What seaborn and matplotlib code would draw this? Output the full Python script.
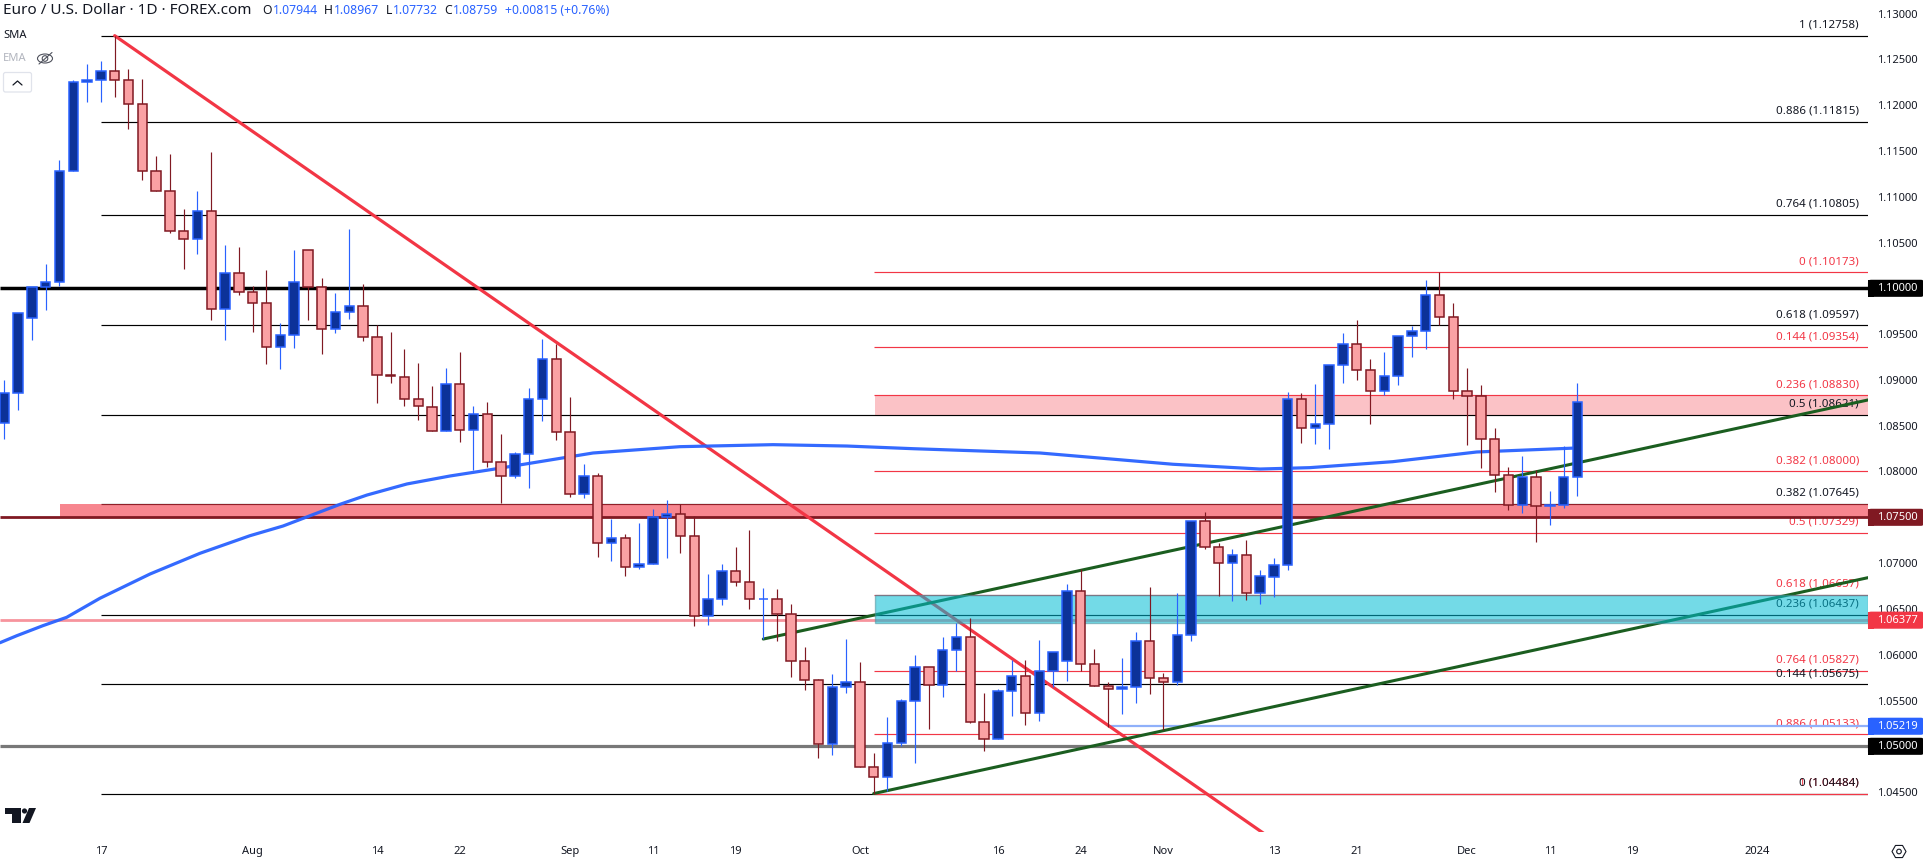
import numpy as np
import pandas as pd
import matplotlib
matplotlib.use("Agg")
import matplotlib.pyplot as plt
from matplotlib.patches import Rectangle, FancyBboxPatch, Polygon, Circle, Ellipse, RegularPolygon
import seaborn as sns

# daily candles
open_ = [1.0853, 1.0886, 1.09672, 1.1001, 1.10072, 1.11284, 1.12248, 1.1227, 1.12368, 1.1227,
         1.12008, 1.11284, 1.11065, 1.10629, 1.10541, 1.10847, 1.0977, 1.10163, 1.09956, 1.09836,
         1.09362, 1.09486, 1.10414, 1.1001, 1.09552, 1.09737, 1.09803, 1.09464, 1.09049, 1.09035,
         1.08787, 1.08708, 1.08439, 1.08952, 1.08449, 1.08624, 1.081, 1.07947, 1.08187, 1.08788,
         1.09225, 1.08428, 1.07751, 1.07947, 1.07216, 1.07271, 1.06954, 1.06987, 1.075, 1.07533,
         1.07292, 1.06419, 1.06605, 1.0691, 1.0679, 1.06605, 1.06605, 1.06448, 1.05928, 1.0572,
         1.05022, 1.05644, 1.05699, 1.04771, 1.04661, 1.05033, 1.05491, 1.05862, 1.05666, 1.06048,
         1.0619, 1.05269, 1.05076, 1.056, 1.05764, 1.0536, 1.05818, 1.05935, 1.06692, 1.05895,
         1.05655, 1.05622, 1.05644, 1.06146, 1.05742, 1.05698, 1.06211, 1.07456, 1.07172, 1.06997,
         1.07085, 1.0667, 1.06852, 1.06976, 1.08791, 1.08471, 1.08515, 1.09159, 1.09388, 1.09104,
         1.08875, 1.09039, 1.09475, 1.0953, 1.09923, 1.09683, 1.08875, 1.0882, 1.08351, 1.07958,
         1.07631, 1.07936, 1.0762, 1.07638, 1.07944]
high = [1.0900, 1.09726, 1.1001, 1.10265, 1.1140, 1.12274, 1.12448, 1.12481, 1.12758, 1.1239,
        1.12281, 1.11444, 1.11462, 1.10862, 1.11058, 1.11484, 1.10472, 1.1045, 1.10025, 1.10199,
        1.09617, 1.10418, 1.10414, 1.10108, 1.09945, 1.10643, 1.10043, 1.09595, 1.09519, 1.09333,
        1.0918, 1.08933, 1.09126, 1.09301, 1.08715, 1.08759, 1.0841, 1.08213, 1.08908, 1.09447,
        1.09392, 1.08813, 1.08082, 1.0798, 1.07482, 1.07318, 1.07434, 1.07591, 1.07689, 1.07642,
        1.07511, 1.06881, 1.06987, 1.07176, 1.07362, 1.06728, 1.06714, 1.0655, 1.06081, 1.05731,
        1.05786, 1.06172, 1.05917, 1.04923, 1.05316, 1.05517, 1.05997, 1.05862, 1.0619, 1.06343,
        1.06397, 1.05578, 1.05622, 1.05942, 1.05942, 1.0616, 1.06026, 1.06768, 1.06932, 1.06059,
        1.05698, 1.05964, 1.06244, 1.06739, 1.05796, 1.06673, 1.07456, 1.07558, 1.07216, 1.07154,
        1.07252, 1.06925, 1.07056, 1.08868, 1.08853, 1.08955, 1.09159, 1.09512, 1.09654, 1.09228,
        1.09304, 1.09475, 1.09588, 1.1009, 1.10173, 1.09836, 1.0913, 1.08944, 1.08471, 1.08045,
        1.08169, 1.08016, 1.07787, 1.08278, 1.08967]
low = [1.0835, 1.08671, 1.09435, 1.09763, 1.10025, 1.11284, 1.12037, 1.12037, 1.12092, 1.11742,
       1.11182, 1.11065, 1.10607, 1.10214, 1.10378, 1.09654, 1.09435, 1.09927, 1.09526, 1.09177,
       1.09119, 1.09352, 1.09654, 1.09282, 1.09515, 1.09668, 1.09428, 1.08751, 1.08969, 1.08718,
       1.08562, 1.08439, 1.08439, 1.08326, 1.08016, 1.08053, 1.0766, 1.07933, 1.07824, 1.08555,
       1.08348, 1.07725, 1.07714, 1.0707, 1.07027, 1.06859, 1.06939, 1.06987, 1.07056, 1.0711,
       1.06314, 1.06325, 1.06546, 1.06754, 1.06503, 1.06168, 1.06153, 1.0576, 1.05619, 1.04876,
       1.04909, 1.05586, 1.04771, 1.04484, 1.04509, 1.05004, 1.04822, 1.05193, 1.05542, 1.05819,
       1.05258, 1.04952, 1.05076, 1.05334, 1.05236, 1.0528, 1.05651, 1.05716, 1.05826, 1.05655,
       1.05214, 1.05356, 1.05476, 1.05574, 1.05174, 1.05665, 1.06149, 1.07157, 1.06644, 1.0659,
       1.06601, 1.06553, 1.0663, 1.06925, 1.08315, 1.08304, 1.08249, 1.0897, 1.09002, 1.08522,
       1.08839, 1.08948, 1.09254, 1.09341, 1.09603, 1.08795, 1.08293, 1.08042, 1.0778, 1.0758,
       1.0755, 1.07234, 1.07416, 1.07605, 1.07732]
close = [1.0886, 1.09726, 1.1001, 1.10072, 1.11284, 1.12248, 1.1227, 1.12368, 1.1227, 1.12008,
         1.11284, 1.11065, 1.10629, 1.10541, 1.10847, 1.0977, 1.10163, 1.09956, 1.09836, 1.09362,
         1.09486, 1.10072, 1.1001, 1.09552, 1.09737, 1.09803, 1.09464, 1.09049, 1.09045, 1.08787,
         1.08711, 1.08439, 1.08952, 1.08449, 1.08624, 1.081, 1.07947, 1.08187, 1.08788, 1.09225,
         1.08428, 1.07751, 1.07947, 1.07216, 1.07271, 1.06954, 1.06987, 1.075, 1.07533, 1.07292,
         1.06419, 1.06605, 1.0691, 1.0679, 1.06605, 1.06608, 1.06448, 1.05928, 1.0572, 1.05022,
         1.05644, 1.05699, 1.04771, 1.04661, 1.05033, 1.05491, 1.05862, 1.05666, 1.06048, 1.0619,
         1.05269, 1.05076, 1.056, 1.05764, 1.0536, 1.05818, 1.06026, 1.06692, 1.05895, 1.05655,
         1.05622, 1.05644, 1.06146, 1.05742, 1.05698, 1.06211, 1.07456, 1.07172, 1.06997, 1.07085,
         1.0667, 1.06855, 1.06976, 1.08791, 1.08471, 1.08515, 1.09159, 1.09388, 1.09104, 1.08875,
         1.09039, 1.09475, 1.0953, 1.09923, 1.09683, 1.08875, 1.0882, 1.08351, 1.07958, 1.07631,
         1.07936, 1.0762, 1.07638, 1.07936, 1.08759]

# 200 day SMA, read at a few spots
sma_x = [-0.31, 0.9, 2.8, 4.52, 6.93, 10.56, 14.18, 17.8, 20.2, 24.33, 26.28, 29.18, 32.3, 35.41,
         42.66, 48.96, 55.7, 61.07, 65.85, 75.05, 84.69, 91, 94.6, 100.6, 106.7, 114]
sma_y = [1.06131, 1.06207, 1.06317, 1.06408, 1.06616, 1.06881, 1.07107, 1.07299, 1.07405, 1.07642,
         1.07743, 1.07864, 1.07951, 1.08024, 1.08202, 1.08271, 1.08293, 1.08278, 1.08249, 1.08202,
         1.08079, 1.08027, 1.08042, 1.08107, 1.08213, 1.08257]

# fib levels
black_fib = [("1", 1.12758), ("0.886", 1.11815), ("0.764", 1.10805), ("0.618", 1.09597), ("0.5", 1.08621),
             ("0.382", 1.07645), ("0.236", 1.06437), ("0.144", 1.05675), ("0", 1.04484)]
red_fib = [("0", 1.10173), ("0.144", 1.09354), ("0.236", 1.0883), ("0.382", 1.08), ("0.5", 1.07329),
           ("0.618", 1.06657), ("0.764", 1.05827), ("0.886", 1.05133), ("1", 1.04484)]

y_ticks = [1.13, 1.125, 1.12, 1.115, 1.11, 1.105, 1.095, 1.09, 1.085, 1.08, 1.07, 1.065, 1.06, 1.055, 1.045]
x_ticks = [7, 18, 27, 33, 41, 47, 53, 62, 72, 78, 84, 92, 98, 106, 112, 118, 127]
x_labels = ["17", "Aug", "14", "22", "Sep", "11", "19", "Oct", "16", "24", "Nov", "13", "21", "Dec", "11", "19", "2024"]

price_tags = [(1.1, "1.10000", "#000000"), (1.075, "1.07500", "#801922"), (1.06377, "1.06377", "#f23645"),
              (1.05219, "1.05219", "#2962ff"), (1.05, "1.05000", "#000000")]

BULL_FILL, BULL_EDGE = "#0c3299", "#2962ff"
BEAR_FILL, BEAR_EDGE = "#faa1a4", "#801922"
RED, GREEN, INK = "#f23645", "#1b5e20", "#131722"

sns.set_theme(style="white")
plt.rcParams['font.family'] = ['Noto Sans', 'DejaVu Sans']

W, H = 1924, 863
CHART_W, CHART_H = 1868, 832
fig = plt.figure(figsize=(W / 100, H / 100), dpi=100, facecolor="white")
ax = fig.add_axes([0, (H - CHART_H) / H, CHART_W / W, CHART_H / H])

x_min, x_max = -4.3 / 13.8, (CHART_W - 4.3) / 13.8
y_max, y_min = 1.13 + 13.5 / 9160, 1.13 - (CHART_H - 13.5) / 9160

df = pd.DataFrame({"o": open_, "h": high, "l": low, "c": close})
df["i"] = df.index
up = df[df.c >= df.o]
dn = df[df.c < df.o]

# fib lines sit under the zones, so the black edge of the red zone turns dark red
for name, p in black_fib:
    ax.hlines(p, 7, x_max, color="#000000", lw=0.85, zorder=2)
    ax.annotate(f"{name} ({p:.5f})", (x_max, p), xytext=(-6.5, 7.6), textcoords="offset points",
                ha="right", va="center", fontsize=8.3, color=INK, zorder=2.5)
for name, p in red_fib:
    ax.hlines(p, 63, x_max, color=RED, lw=0.85, zorder=2)
    ax.annotate(f"{name} ({p:.5f})", (x_max, p), xytext=(-6.5, 7.6), textcoords="offset points",
                ha="right", va="center", fontsize=8.3, color=RED, zorder=2.4)

# zones
ax.add_patch(Rectangle((63.1, 1.08621), x_max - 63.1, 1.0883 - 1.08621, fc=RED, alpha=0.3, lw=0, zorder=2.2))
ax.add_patch(Rectangle((4.05, 1.075), x_max - 4.05, 1.07645 - 1.075, fc=RED, alpha=0.6, lw=0, zorder=2.2))

# horizontal price lines
ax.hlines(1.1, x_min, x_max, color="#000000", lw=2.5, zorder=2.6)
ax.hlines(1.05, x_min, x_max, color="#787878", lw=2.3, zorder=2.6)
ax.hlines(1.075, x_min, x_max, color="#801922", lw=2.0, zorder=2.6)
ax.hlines(1.06377, x_min, x_max, color="#f7949d", lw=2.0, zorder=2.6)
ax.hlines(1.05219, 80, x_max, color="#8fb0fa", lw=1.6, zorder=2.6)

# trend lines and SMA
sns.lineplot(x=[8, 92], y=[1.12758, 1.03972], ax=ax, color=RED, lw=2.3, zorder=3, estimator=None)
sns.lineplot(x=[55, x_max], y=[1.06171, 1.08781], ax=ax, color=GREEN, lw=2.2, zorder=3, estimator=None)
sns.lineplot(x=[63, x_max], y=[1.04484, 1.06841], ax=ax, color=GREEN, lw=2.2, zorder=3, estimator=None)
sns.lineplot(x=sma_x, y=sma_y, ax=ax, color=BULL_EDGE, lw=2.3, alpha=0.95, zorder=3, estimator=None, sort=False)

ax.add_patch(Rectangle((63.1, 1.0635), x_max - 63.1, 1.06657 - 1.0635, fc="#00bcd4", ec="#4f8f9a", alpha=0.55,
                       lw=1, zorder=4))

# candles
ax.vlines(up.i, up.l, up.h, color=BULL_EDGE, lw=0.85, zorder=5)
ax.vlines(dn.i, dn.l, dn.h, color=BEAR_EDGE, lw=0.85, zorder=5)
ax.bar(up.i, up.c - up.o, bottom=up.o, width=0.68, color=BULL_FILL, edgecolor=BULL_EDGE, lw=1.1, zorder=6)
ax.bar(dn.i, dn.o - dn.c, bottom=dn.c, width=0.68, color=BEAR_FILL, edgecolor=BEAR_EDGE, lw=1.1, zorder=6)

ax.set_xlim(x_min, x_max)
ax.set_ylim(y_min, y_max)
ax.set_xlabel("")
ax.set_ylabel("")
ax.yaxis.tick_right()
ax.set_yticks(y_ticks)
ax.set_yticklabels([f"{t:.5f}" for t in y_ticks])
ax.set_xticks(x_ticks)
ax.set_xticklabels(x_labels)
ax.tick_params(axis="y", length=0, pad=6.5, labelsize=8, labelcolor=INK)
ax.tick_params(axis="x", length=0, pad=10, labelsize=8, labelcolor=INK)
ax.get_xticklabels()[-1].set_fontweight("bold")
sns.despine(ax=ax, left=True, bottom=True, right=True, top=True)

# everything around the chart, in pixel coordinates
ov = fig.add_axes([0, 0, 1, 1], facecolor="none")
ov.set_xlim(0, W)
ov.set_ylim(H, 0)
ov.axis("off")

for p, txt, col in price_tags:
    yc = 13.5 + (1.13 - p) * 9160
    ov.add_patch(FancyBboxPatch((1869, yc - 7.5), 54, 15, boxstyle="round,pad=0,rounding_size=2", fc=col, ec=col, lw=1.5))
    ov.add_patch(Rectangle((1868, yc - 8.5), 6, 17, fc=col, lw=0))
    ov.text(1877, yc, txt, color="white", fontsize=8, fontweight="semibold", va="center", ha="left")

ov.text(3, 11, "Euro / U.S. Dollar · 1D · FOREX.com", fontsize=11, color=INK, va="center")
for x, s, col in [(262, "O", INK), (273.3, "1.07944", BULL_EDGE), (324.3, "H", INK), (333.7, "1.08967", BULL_EDGE),
                  (385.7, "L", INK), (393.3, "1.07732", BULL_EDGE), (444, "C", INK), (453.3, "1.08759", BULL_EDGE),
                  (505, "+0.00815 (+0.76%)", BULL_EDGE)]:
    ov.text(x, 11, s, fontsize=8.8, color=col, va="center")
ov.text(3, 35, "SMA", fontsize=8, color=INK, va="center")
ov.text(3, 58.5, "EMA", fontsize=8, color="#b2b5be", va="center")

# hidden-eye icon
ov.add_patch(Ellipse((45, 58.5), 15, 9, fc="none", ec="#50535e", lw=0.8))
ov.add_patch(Circle((45, 58.5), 2.8, fc="none", ec="#50535e", lw=0.8))
ov.plot([39, 52], [64, 52.5], color="#50535e", lw=0.8)

# collapse button
ov.add_patch(FancyBboxPatch((3.5, 72.5), 28, 19.5, boxstyle="round,pad=0,rounding_size=2", fc="white", ec="#e0e3eb", lw=0.9))
ov.plot([13, 17.5, 22], [85, 81, 85], color=INK, lw=0.9)

# TradingView logo
ov.add_patch(Polygon([(5, 808), (21, 808), (21, 823), (12, 823), (12, 814), (5, 814)], fc=INK, lw=0))
ov.add_patch(Circle((24.5, 811), 2.6, fc=INK, lw=0))
ov.add_patch(Polygon([(29, 808), (36, 808), (29.5, 823), (22.5, 823)], fc=INK, lw=0))

# settings icon
ov.add_patch(RegularPolygon((1899, 851.5), 6, radius=7, orientation=np.pi / 6, fc="none", ec=INK, lw=0.8))
ov.add_patch(Circle((1899, 851.5), 2.3, fc="none", ec=INK, lw=0.8))

fig.savefig("out.png", dpi=100, facecolor="white")
